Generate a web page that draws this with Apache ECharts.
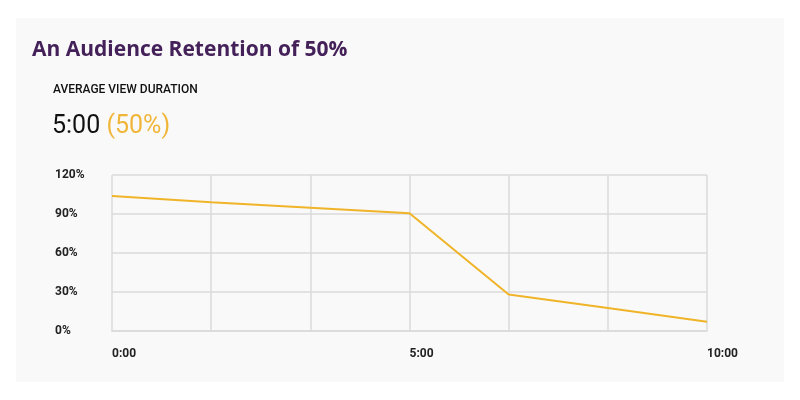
<!DOCTYPE html>
<html>
<head>
<meta charset="utf-8">
<script src="https://cdn.jsdelivr.net/npm/echarts@6/dist/echarts.min.js"></script>
<style>
  html, body { margin: 0; padding: 0; background: #ffffff; }
  #idChart { width: 800px; height: 400px; }
</style>
</head>
<body>
<div id="idChart"></div>
<script>
// time axis (every 1:40) and retention values
var timeData = ['0:00', '1:40', '3:20', '5:00', '6:40', '8:20', '10:00'];
var shownTimes = ['0:00', '5:00', '10:00'];
var retention = [103.8, 99.0, 94.8, 90.5, 28.1, 17.7, 7.2];

var myChart = echarts.init(document.getElementById('idChart'));

var Options = {
    backgroundColor: '#ffffff',
    animation: false,
    graphic: [{
        type: 'rect',
        z: -10,
        shape: { x: 16, y: 18, width: 768, height: 364 },
        style: { fill: '#f9f9f9' }
    }],
    title: [{
        text: 'An Audience Retention of 50%',
        left: 32,
        top: 40,
        padding: 0,
        textStyle: {
            fontFamily: 'Open Sans',
            fontSize: 21,
            fontWeight: 700,
            color: '#45215a'
        }
    }, {
        text: 'AVERAGE VIEW DURATION',
        left: 53,
        top: 84,
        padding: 0,
        textStyle: {
            fontFamily: 'Roboto',
            fontSize: 12,
            fontWeight: 500,
            color: '#111111'
        }
    }, {
        text: '{a|5:00} {b|(50%)}',
        left: 52,
        top: 114,
        padding: 0,
        textStyle: {
            fontFamily: 'Roboto',
            fontSize: 25,
            rich: {
                a: { fontFamily: 'Roboto', fontSize: 25, fontWeight: 400, color: '#111111' },
                b: { fontFamily: 'Roboto', fontSize: 25, fontWeight: 400, color: '#f0b63a' }
            }
        }
    }],
    grid: {
        left: 112,
        right: 93,
        top: 175,
        bottom: 69
    },
    xAxis: {
        type: 'category',
        boundaryGap: false,
        data: timeData,
        axisLine: { lineStyle: { color: '#dadada', width: 1.5 } },
        axisTick: { show: false },
        splitLine: {
            show: true,
            interval: 0,
            lineStyle: { color: '#dadada', width: 1.5 }
        },
        axisLabel: {
            interval: function (index, value) {
                return shownTimes.indexOf(value) >= 0;
            },
            align: 'left',
            margin: 17,
            fontFamily: 'Roboto',
            fontSize: 12,
            fontWeight: 700,
            color: '#222222'
        }
    },
    yAxis: {
        type: 'value',
        min: 0,
        max: 120,
        interval: 30,
        axisLine: { show: false },
        axisTick: { show: false },
        splitLine: { lineStyle: { color: '#dadada', width: 1.5 } },
        axisLabel: {
            formatter: '{value}%',
            align: 'left',
            margin: 57,
            padding: [5, 0, 0, 0],
            fontFamily: 'Roboto',
            fontSize: 12,
            fontWeight: 700,
            color: '#222222'
        }
    },
    series: [{
        name: 'Retention',
        type: 'line',
        symbol: 'none',
        data: retention,
        lineStyle: { color: '#f0b429', width: 2 }
    }]
};

myChart.setOption(Options);
</script>
</body>
</html>
